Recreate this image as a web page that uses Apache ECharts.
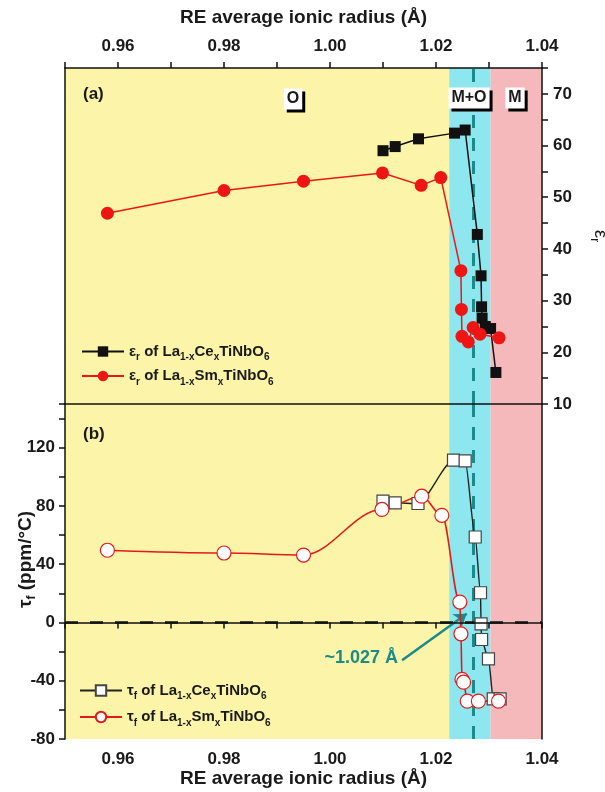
<!DOCTYPE html>
<html>
<head>
<meta charset="utf-8">
<title>La1-xCexTiNbO6 / La1-xSmxTiNbO6</title>
<script src="https://cdn.jsdelivr.net/npm/echarts@6/dist/echarts.min.js"></script>
<style>
  html, body { margin: 0; padding: 0; background: #fff; }
  #chart { width: 605px; height: 792px; }
</style>
</head>
<body>
<div id="chart"></div>
<script>
  // values: RE average ionic radius (Å) and property
  const ceEpsX = [1.0100, 1.0123, 1.0167, 1.0235, 1.0255, 1.0278, 1.0285, 1.0286, 1.0287, 1.0293, 1.0303, 1.0313];
  const ceEps = [59.0, 59.8, 61.3, 62.4, 63.0, 42.8, 34.8, 28.8, 26.6, 25.0, 24.6, 16.1];
  const smEpsX = [0.958, 0.980, 0.995, 1.0099, 1.0172, 1.0209, 1.0247, 1.0248, 1.0249, 1.0261, 1.0270, 1.0283, 1.0319];
  const smEps = [46.9, 51.3, 53.1, 54.7, 52.3, 53.8, 35.8, 28.3, 23.1, 22.0, 24.8, 23.5, 22.8];

  const ceTauX = [1.0100, 1.0123, 1.0166, 1.0233, 1.0255, 1.0274, 1.0284, 1.0285, 1.0286, 1.0299, 1.0308, 1.0321];
  const ceTau = [83.3, 82.1, 81.7, 111.5, 111.0, 58.7, 20.4, -0.9, -11.7, -25.0, -52.5, -52.5];
  const smTauX = [0.958, 0.980, 0.995, 1.0098, 1.0173, 1.0211, 1.0245, 1.0247, 1.0249, 1.0252, 1.0259, 1.0280, 1.0318];
  const smTau = [49.6, 47.7, 46.3, 77.6, 86.7, 73.6, 14.0, -7.8, -39.0, -41.0, -54.0, -54.0, -54.0];

  // phase regions O / M+O / M and the crossing radius
  const zoneEdges = [0.95, 1.0225, 1.0303, 1.04];
  const zoneColors = ['#fcf4a8', '#8ee6ef', '#f5b9bb'];
  const crossRadius = 1.027;
  const arrowFrom = [1.0136, -26];
  const arrowTo = [1.0258, 6];

  const font = 'Liberation Sans';
  const teal = '#1a8a8a';

  let chart = echarts.init(document.getElementById('chart'));

  function pairs(xs, ys) {
    return xs.map(function (x, i) { return [x, ys[i]]; });
  }

  let zoneData = zoneColors.map(function (c, i) {
    return [{xAxis: zoneEdges[i], itemStyle: {color: c}}, {xAxis: zoneEdges[i + 1]}];
  });

  let legendNames = {
    'eps Ce': '{t|ε}{s|r}{t| of La}{s|1-x}{t|Ce}{s|x}{t|TiNbO}{s|6}',
    'eps Sm': '{t|ε}{s|r}{t| of La}{s|1-x}{t|Sm}{s|x}{t|TiNbO}{s|6}',
    'tau Ce': '{t|τ}{s|f}{t| of La}{s|1-x}{t|Ce}{s|x}{t|TiNbO}{s|6}',
    'tau Sm': '{t|τ}{s|f}{t| of La}{s|1-x}{t|Sm}{s|x}{t|TiNbO}{s|6}'
  };
  let rich = {
    t: {fontFamily: font, fontWeight: 'bold', fontSize: 15, color: '#1a1a1a', lineHeight: 22},
    s: {fontFamily: font, fontWeight: 'bold', fontSize: 10, color: '#1a1a1a', lineHeight: 12, verticalAlign: 'bottom'}
  };
  let axisText = {fontFamily: font, fontWeight: 'bold', fontSize: 17, color: '#1a1a1a'};
  let nameText = {fontFamily: font, fontWeight: 'bold', fontSize: 19, color: '#1a1a1a'};
  let blackLine = {color: '#111', width: 1.5};

  function radiusLabel(v) {
    let k = Math.round(v * 100);
    return k % 2 === 0 ? v.toFixed(2) : '';
  }

  function frameAxis(extra) {
    return Object.assign({
      type: 'value', z: 10,
      axisLine: {show: true, lineStyle: blackLine},
      axisTick: {show: false}, axisLabel: {show: false}, splitLine: {show: false}
    }, extra);
  }

  // phase label box with a hard black drop shadow
  function phaseBox(label, x, y) {
    let st = {text: label, font: 'bold 16px "Liberation Sans"', align: 'center', verticalAlign: 'middle', padding: [3, 3, 2, 3]};
    return [
      {type: 'text', x: x + 3, y: y + 3, z: 19, silent: true, style: Object.assign({}, st, {fill: '#000', backgroundColor: '#000'})},
      {type: 'text', x: x, y: y, z: 20, silent: true, style: Object.assign({}, st, {fill: '#1a1a1a', backgroundColor: '#fff'})}
    ];
  }

  let option = {
    backgroundColor: '#fff',
    animation: false,
    grid: [
      {left: 65, top: 68, width: 477, height: 336, outerBoundsMode: 'none'},
      {left: 65, top: 404, width: 477, height: 335, outerBoundsMode: 'none'}
    ],
    legend: [
      {
        data: ['eps Ce', 'eps Sm'], left: 76, top: 339, orient: 'vertical',
        itemWidth: 42, itemHeight: 13, itemGap: 6,
        formatter: function (n) { return legendNames[n]; },
        textStyle: {rich: rich}
      },
      {
        data: ['tau Ce', 'tau Sm'], left: 74, top: 678, orient: 'vertical',
        itemWidth: 42, itemHeight: 13, itemGap: 8,
        formatter: function (n) { return legendNames[n]; },
        textStyle: {rich: rich}
      }
    ],
    xAxis: [
      {
        type: 'value', gridIndex: 0, position: 'top', z: 10,
        min: 0.95, max: 1.04, interval: 0.01,
        name: 'RE average ionic radius (Å)', nameLocation: 'middle', nameGap: 41, nameMoveOverlap: false,
        nameTextStyle: nameText,
        axisLine: {lineStyle: blackLine},
        axisTick: {length: 6, lineStyle: {color: '#111', width: 1.5}},
        axisLabel: Object.assign({margin: 13, formatter: radiusLabel}, axisText),
        splitLine: {show: false}
      },
      frameAxis({gridIndex: 0, position: 'bottom', min: 0.95, max: 1.04}),
      {
        type: 'value', gridIndex: 1, position: 'bottom', z: 10,
        min: 0.95, max: 1.04, interval: 0.01,
        name: 'RE average ionic radius (Å)', nameLocation: 'middle', nameGap: 30, nameMoveOverlap: false,
        nameTextStyle: nameText,
        axisLine: {lineStyle: blackLine},
        axisTick: {length: 6, lineStyle: {color: '#111', width: 1.5}},
        axisLabel: Object.assign({margin: 12, formatter: radiusLabel}, axisText),
        splitLine: {show: false}
      }
    ],
    yAxis: [
      {
        type: 'value', gridIndex: 0, position: 'right', z: 10,
        min: 10, max: 75, interval: 5,
        name: '{t|ε}{s|r}', nameLocation: 'middle', nameGap: 46, nameRotate: -90, nameMoveOverlap: false,
        nameTextStyle: {rich: {
          t: {fontFamily: font, fontSize: 19, color: '#1a1a1a', lineHeight: 24},
          s: {fontFamily: font, fontSize: 12, color: '#1a1a1a', lineHeight: 14, verticalAlign: 'bottom'}
        }},
        axisLine: {lineStyle: blackLine},
        axisTick: {length: 6, lineStyle: {color: '#111', width: 1.5}},
        axisLabel: Object.assign({
          margin: 11,
          formatter: function (v) { return (v % 10 === 0 && v <= 70) ? String(v) : ''; }
        }, axisText),
        splitLine: {show: false}
      },
      frameAxis({gridIndex: 0, position: 'left', min: 10, max: 75}),
      {
        type: 'value', gridIndex: 1, position: 'left', z: 10,
        min: -80, max: 150, interval: 20,
        name: '{t|τ}{s|f}{t| (ppm/°C)}', nameLocation: 'middle', nameGap: 27, nameRotate: 90, nameMoveOverlap: false,
        nameTextStyle: {
          padding: [0, 0, 0, 24],
          rich: {
            t: {fontFamily: font, fontWeight: 'bold', fontSize: 19, color: '#1a1a1a', lineHeight: 24},
            s: {fontFamily: font, fontWeight: 'bold', fontSize: 12, color: '#1a1a1a', lineHeight: 14, verticalAlign: 'bottom'}
          }
        },
        axisLine: {lineStyle: blackLine},
        axisTick: {length: 6, lineStyle: {color: '#111', width: 1.5}},
        axisLabel: Object.assign({
          margin: 10,
          formatter: function (v) { return (v % 40 === 0 && v <= 120) ? String(v) : ''; }
        }, axisText),
        splitLine: {show: false}
      },
      frameAxis({gridIndex: 1, position: 'right', min: -80, max: 150})
    ],
    series: [
      {
        name: 'eps Ce', type: 'line', xAxisIndex: 0, yAxisIndex: 0,
        data: pairs(ceEpsX, ceEps),
        symbol: 'rect', symbolSize: 11,
        itemStyle: {color: '#111'},
        lineStyle: {color: '#111', width: 1.5},
        markArea: {silent: true, data: zoneData},
        markLine: {
          silent: true, z: 1.5, symbol: 'none', precision: 4, label: {show: false},
          lineStyle: {color: teal, width: 3, type: [13, 10]},
          data: [{xAxis: crossRadius}]
        }
      },
      {
        name: 'eps Sm', type: 'line', xAxisIndex: 0, yAxisIndex: 0,
        data: pairs(smEpsX, smEps),
        symbol: 'circle', symbolSize: 13,
        itemStyle: {color: '#ee1515'},
        lineStyle: {color: '#ee1515', width: 1.5}
      },
      {
        name: 'tau Ce', type: 'line', xAxisIndex: 2, yAxisIndex: 2,
        data: pairs(ceTauX, ceTau),
        smooth: 0.25, smoothMonotone: 'x',
        symbol: 'rect', symbolSize: 12,
        itemStyle: {color: '#fff', borderColor: '#444', borderWidth: 1.2},
        lineStyle: {color: '#222', width: 1.4},
        markArea: {silent: true, data: zoneData},
        markLine: {
          silent: true, z: 1.5, symbol: 'none', precision: 4, label: {show: false},
          data: [
            {xAxis: crossRadius, lineStyle: {color: teal, width: 3, type: [13, 10]}},
            {yAxis: 0, lineStyle: {color: '#111', width: 2.5, type: [13, 12]}},
            [
              {coord: arrowFrom, symbol: 'none', lineStyle: {color: teal, width: 2.5, type: 'solid'}},
              {coord: arrowTo, symbol: 'arrow', symbolSize: 12}
            ]
          ]
        }
      },
      {
        name: 'tau Sm', type: 'line', xAxisIndex: 2, yAxisIndex: 2,
        data: pairs(smTauX, smTau),
        smooth: 0.35, smoothMonotone: 'x',
        symbol: 'circle', symbolSize: 14,
        itemStyle: {color: '#fff', borderColor: '#e31a1c', borderWidth: 1.2},
        lineStyle: {color: '#e31a1c', width: 1.6}
      }
    ],
    graphic: [
      {type: 'text', left: 83, top: 86, z: 20, style: {text: '(a)', font: 'bold 17px "Liberation Sans"', fill: '#1a1a1a'}},
      {type: 'text', left: 83, top: 426, z: 20, style: {text: '(b)', font: 'bold 17px "Liberation Sans"', fill: '#1a1a1a'}},
      {type: 'text', x: 398, y: 658, z: 20, style: {
        text: '~1.027 Å', font: 'bold 18px "Liberation Sans"', fill: teal, align: 'right', verticalAlign: 'middle'
      }}
    ].concat(phaseBox('O', 293, 99), phaseBox('M+O', 469, 98), phaseBox('M', 515, 98))
  };

  chart.setOption(option);
</script>
</body>
</html>
